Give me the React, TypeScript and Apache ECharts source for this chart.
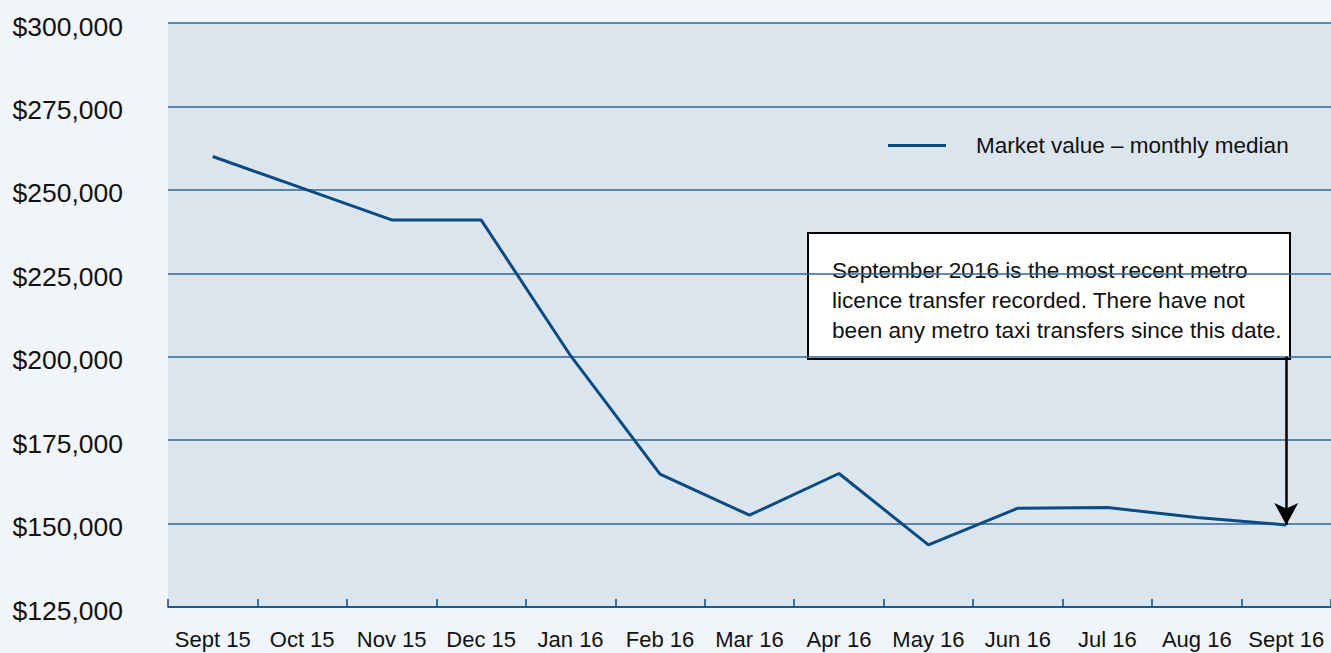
import React, { useEffect, useRef } from "react";
import * as echarts from "echarts";

const categories = ["Sept 15", "Oct 15", "Nov 15", "Dec 15", "Jan 16", "Feb 16", "Mar 16", "Apr 16", "May 16", "Jun 16", "Jul 16", "Aug 16", "Sept 16"];
const medianValues = [260000, 250500, 241000, 241000, 200300, 164800, 152500, 165000, 143600, 154600, 154800, 151800, 149600];
const seriesName = "Market value – monthly median";
const annotationLines = [
  "September 2016 is the most recent metro",
  "licence transfer recorded. There have not",
  "been any metro taxi transfers since this date.",
];
const yMin = 125000;
const yMax = 300000;
const yStep = 25000;
const arrowTop = 200000;

const FONT = "'Liberation Sans', Arial, Helvetica, sans-serif";

export default function App() {
  const ref = useRef<HTMLDivElement>(null);
  useEffect(() => {
    document.body.style.margin = "0";
    document.body.style.background = "#f1f5f9";
    const chart = echarts.init(ref.current!, null, { renderer: "svg" });
    const last = categories[categories.length - 1];
    chart.setOption({
      animation: false,
      backgroundColor: "#f1f5f9",
      grid: {
        left: 168,
        right: 0,
        top: 23,
        bottom: 46,
        show: true,
        backgroundColor: "#dbe5ee",
        borderWidth: 0,
      },
      legend: {
        data: [seriesName],
        left: 888,
        top: 134,
        padding: 0,
        itemWidth: 58,
        itemHeight: 3,
        icon: "rect",
        textStyle: {
          fontFamily: FONT,
          fontSize: 22.5,
          color: "#111",
          padding: [0, 0, 0, 25],
        },
      },
      xAxis: {
        type: "category",
        data: categories,
        boundaryGap: true,
        axisLine: { show: true, lineStyle: { color: "#0b4a82", width: 1.5 } },
        axisTick: { show: true, inside: true, length: 8, alignWithLabel: false, lineStyle: { color: "#0b4a82", width: 1.5 } },
        axisLabel: { fontFamily: FONT, fontSize: 22, color: "#111", margin: 21, interval: 0 },
        splitLine: { show: false },
      },
      yAxis: {
        type: "value",
        min: yMin,
        max: yMax,
        interval: yStep,
        axisLine: { show: false },
        axisTick: { show: false },
        axisLabel: {
          fontFamily: FONT,
          fontSize: 26.5,
          color: "#111",
          margin: 45,
          verticalAlign: "top",
          lineHeight: 7,
          formatter: (v: number) => "$" + v.toLocaleString("en-US"),
        },
        splitLine: { show: true, lineStyle: { color: "#2f6699", width: 1.5 } },
      },
      series: [
        {
          name: seriesName,
          type: "line",
          data: medianValues,
          symbol: "none",
          lineStyle: { color: "#0b4a82", width: 3 },
          itemStyle: { color: "#0b4a82" },
          markLine: {
            silent: true,
            symbol: ["none", "arrow"],
            symbolSize: [18, 22],
            label: { show: false },
            lineStyle: { color: "#000", width: 2.5, type: "solid" },
            data: [[{ coord: [last, arrowTop] }, { coord: [last, medianValues[medianValues.length - 1]] }]],
          },
        },
      ],
      graphic: [
        {
          type: "group",
          left: 807,
          top: 232,
          children: [
            {
              type: "rect",
              shape: { x: 0, y: 0, width: 482, height: 126 },
              style: { fill: "#fff", stroke: "#000", lineWidth: 2 },
            },
            {
              type: "text",
              x: 24,
              y: 22,
              style: {
                text: annotationLines.join("\n"),
                font: `22.6px ${FONT}`,
                fill: "#111",
                lineHeight: 30,
              },
            },
          ],
        },
      ],
    });
    return () => chart.dispose();
  }, []);
  return <div ref={ref} style={{ width: 1331, height: 653 }} />;
}
